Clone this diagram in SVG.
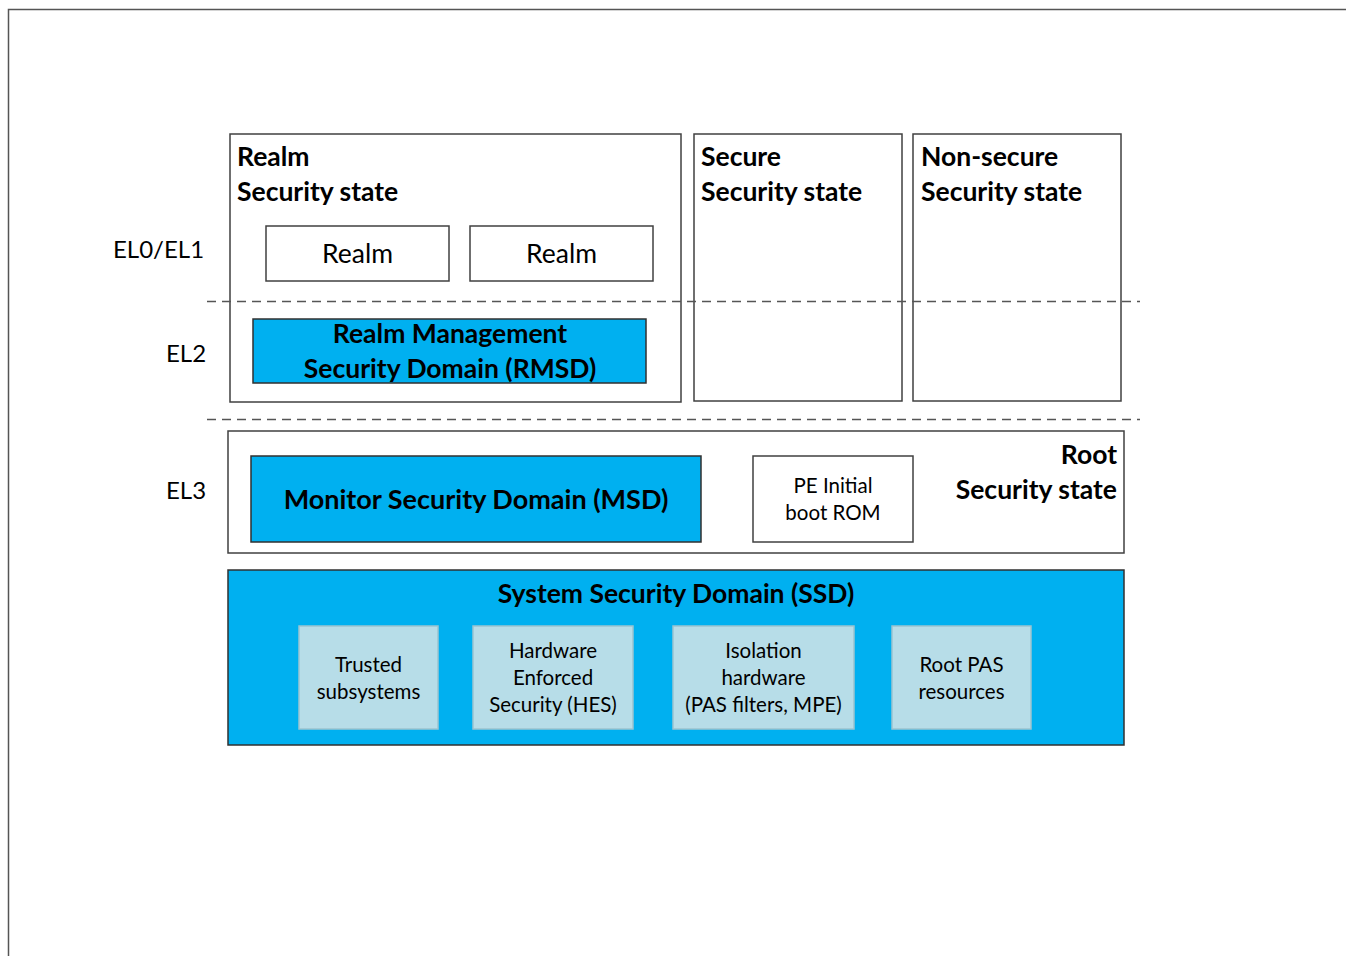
<svg xmlns="http://www.w3.org/2000/svg" width="1346" height="956" viewBox="0 0 1346 956">
<style>
text{font-family:Lato,"Open Sans","Liberation Sans",sans-serif;fill:#000}
.b{font-weight:bold;font-size:26.5px}
.lvl{font-size:24px}
.rl{font-size:26.5px}
.box{fill:#fff;stroke:#404040;stroke-width:1.5}
.blue{fill:#00B0F0;stroke:#303030;stroke-width:1.5}
.lb{fill:#B7DDE8;stroke:#9cc3cf;stroke-width:1.5}
.dash{stroke:#555;stroke-width:1.5;stroke-dasharray:9,6;fill:none}
.sm{font-size:20.5px}
.c{text-anchor:middle}
</style>
<rect width="1346" height="956" fill="#fff"/>
<path d="M8.5 956V9.5H1346" fill="none" stroke="#555" stroke-width="1.5"/>
<g id="labels">
<text class="lvl" x="113" y="258">EL0/EL1</text>
<text class="lvl" x="166" y="362">EL2</text>
<text class="lvl" x="166" y="499">EL3</text>
</g>
<g id="realm-state">
<rect class="box" x="230" y="134" width="451" height="268"/>
<text class="b" x="237" y="166">Realm</text>
<text class="b" x="237" y="201">Security state</text>
</g>
<g id="realm1"><rect class="box" x="266" y="226" width="183" height="55"/><text class="rl c" x="357.5" y="263">Realm</text></g>
<g id="realm2"><rect class="box" x="470" y="226" width="183" height="55"/><text class="rl c" x="561.5" y="263">Realm</text></g>
<g id="rmsd"><rect class="blue" x="253" y="319" width="393" height="64"/>
<text class="b c" x="450" y="343">Realm Management</text>
<text class="b c" x="450" y="378">Security Domain (RMSD)</text></g>
<g id="secure-state"><rect class="box" x="694" y="134" width="208" height="267"/>
<text class="b" x="701" y="166">Secure</text><text class="b" x="701" y="201">Security state</text></g>
<g id="nonsecure-state"><rect class="box" x="913" y="134" width="208" height="267"/>
<text class="b" x="921" y="166">Non-secure</text><text class="b" x="921" y="201">Security state</text></g>
<g id="connectors">
<line class="dash" x1="207" y1="301.5" x2="1140" y2="301.5"/>
<line class="dash" x1="207" y1="419.5" x2="1140" y2="419.5"/>
</g>
<g id="root-state"><rect class="box" x="228" y="431" width="896" height="122"/>
<text class="b" x="1117" y="464" text-anchor="end">Root</text>
<text class="b" x="1117" y="499" text-anchor="end">Security state</text></g>
<g id="msd"><rect class="blue" x="251" y="456" width="450" height="86"/>
<text class="c" x="476" y="509" style="font-weight:bold;font-size:27px">Monitor Security Domain (MSD)</text></g>
<g id="rom"><rect class="box" x="753" y="456" width="160" height="86"/>
<text class="sm c" x="833" y="493">PE Initial</text><text class="sm c" x="833" y="520">boot ROM</text></g>
<g id="ssd"><rect class="blue" x="228" y="570" width="896" height="175"/>
<text class="b c" x="676" y="603">System Security Domain (SSD)</text></g>
<g id="trusted"><rect class="lb" x="299" y="626" width="139" height="103"/>
<text class="sm c" x="368.5" y="672">Trusted</text><text class="sm c" x="368.5" y="699">subsystems</text></g>
<g id="hes"><rect class="lb" x="473" y="626" width="160" height="103"/>
<text class="sm c" x="553" y="658">Hardware</text><text class="sm c" x="553" y="685">Enforced</text><text class="sm c" x="553" y="712">Security (HES)</text></g>
<g id="isolation"><rect class="lb" x="673" y="626" width="181" height="103"/>
<text class="sm c" x="763.5" y="658">Isolation</text><text class="sm c" x="763.5" y="685">hardware</text><text class="sm c" x="763.5" y="712">(PAS filters, MPE)</text></g>
<g id="rootpas"><rect class="lb" x="892" y="626" width="139" height="103"/>
<text class="sm c" x="961.5" y="672">Root PAS</text><text class="sm c" x="961.5" y="699">resources</text></g>
</svg>
